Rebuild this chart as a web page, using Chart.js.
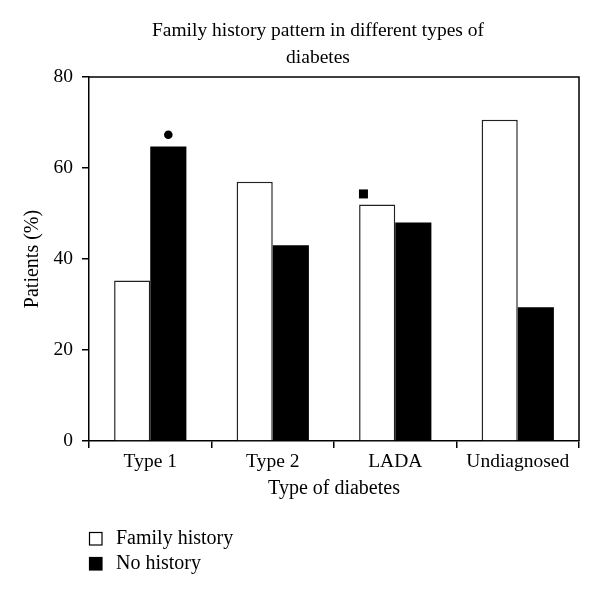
<!DOCTYPE html>
<html>
<head>
<meta charset="utf-8">
<script src="https://cdn.jsdelivr.net/npm/chart.js@4"></script>
<style>
  html, body { margin: 0; padding: 0; background: #fff; }
  #wrap { width: 600px; height: 594px; }
</style>
</head>
<body>
<div id="wrap"><canvas id="myChart1" width="600" height="594"></canvas></div>
<script>
// chart data
const categories = ["Type 1", "Type 2", "LADA", "Undiagnosed"];
const seriesNames = ["Family history", "No history"];
const familyHistory = [35.3, 57, 52, 70.6];
const noHistory = [64.7, 43, 48, 29.4];
const yTicks = [0, 20, 40, 60, 80];
const titleLines = ["Family history pattern in different types of", "diabetes"];

// significance markers: which bar they sit over and their height
const markerSeries = [1, 0];
const markerCategory = [0, 2];
const markerValues = [67.3, 54.3];
const markerShapes = ["circle", "rect"];

const FONT = "'Liberation Serif', 'Times New Roman', serif";
const ctxEl = document.getElementById("myChart1");

// top + right frame, markers, title and legend
const extras = {
  id: "extras",
  afterDraw(chart, args, opts) {
    const ctx = chart.ctx;
    const a = chart.chartArea;
    const y = chart.scales.y;
    ctx.save();
    ctx.strokeStyle = "#000";
    ctx.lineWidth = 1.5;
    ctx.beginPath();
    ctx.moveTo(a.left, a.top);
    ctx.lineTo(a.right, a.top);
    ctx.lineTo(a.right, a.bottom);
    ctx.stroke();

    // markers
    ctx.fillStyle = "#000";
    markerValues.forEach((v, i) => {
      const bar = chart.getDatasetMeta(markerSeries[i]).data[markerCategory[i]];
      const px = bar.x + bar.width * opts.shift[i];
      const py = y.getPixelForValue(v);
      if (markerShapes[i] === "circle") {
        ctx.beginPath();
        ctx.arc(px, py, 4.3, 0, Math.PI * 2);
        ctx.fill();
      } else {
        ctx.fillRect(px - 4.5, py - 4.5, 9, 9);
      }
    });

    // title
    ctx.font = "19.5px " + FONT;
    ctx.textAlign = "center";
    ctx.textBaseline = "middle";
    titleLines.forEach((t, i) => ctx.fillText(t, 318, 31 + i * 27));

    // legend
    ctx.font = "20px " + FONT;
    ctx.textAlign = "left";
    seriesNames.forEach((name, i) => {
      const ds = chart.data.datasets[i];
      const by = 532 + i * 25;
      ctx.fillStyle = ds.backgroundColor;
      ctx.fillRect(89, by, 13, 13);
      ctx.lineWidth = 1.2;
      ctx.strokeStyle = "#000";
      ctx.strokeRect(89.5, by + 0.5, 12.5, 12.5);
      ctx.fillStyle = "#000";
      ctx.fillText(name, 116, by + 7);
    });
    ctx.restore();
  }
};

new Chart(ctxEl, {
  type: "bar",
  data: {
    labels: categories,
    datasets: [{
      label: seriesNames[0],
      data: familyHistory,
      backgroundColor: "#ffffff",
      borderColor: "#222",
      borderWidth: 1.5,
      categoryPercentage: 0.59,
      barPercentage: 1.0
    }, {
      label: seriesNames[1],
      data: noHistory,
      backgroundColor: "#000000",
      borderColor: "#000",
      borderWidth: 0,
      categoryPercentage: 0.59,
      barPercentage: 1.0
    }]
  },
  options: {
    responsive: false,
    animation: false,
    layout: { padding: { top: 77, right: 21, left: 0, bottom: 89 } },
    plugins: {
      legend: { display: false },
      tooltip: { enabled: false },
      extras: { shift: [0, -0.38] }
    },
    scales: {
      x: {
        grid: { drawOnChartArea: false, offset: true, tickLength: 7, color: "#000", lineWidth: 1.5 },
        border: { color: "#000", width: 1.5 },
        ticks: { color: "#000", font: { family: FONT, size: 19.5 }, padding: 2, maxRotation: 0 },
        title: { display: true, text: "Type of diabetes", color: "#000", font: { family: FONT, size: 20 }, padding: { top: 0, bottom: 4 } },
        afterFit(scale) { scale.height = 64; }
      },
      y: {
        min: 0,
        max: 80,
        afterBuildTicks(scale) { scale.ticks = yTicks.map(v => ({ value: v })); },
        grid: { drawOnChartArea: false, tickLength: 7, color: "#000", lineWidth: 1.5 },
        border: { color: "#000", width: 1.5 },
        ticks: { color: "#000", font: { family: FONT, size: 19.5 }, padding: 9 },
        title: { display: true, text: "Patients (%)", color: "#000", font: { family: FONT, size: 20 }, padding: { top: 21, bottom: 0 } },
        afterFit(scale) { scale.width = 89; }
      }
    }
  },
  plugins: [extras]
});
</script>
</body>
</html>
